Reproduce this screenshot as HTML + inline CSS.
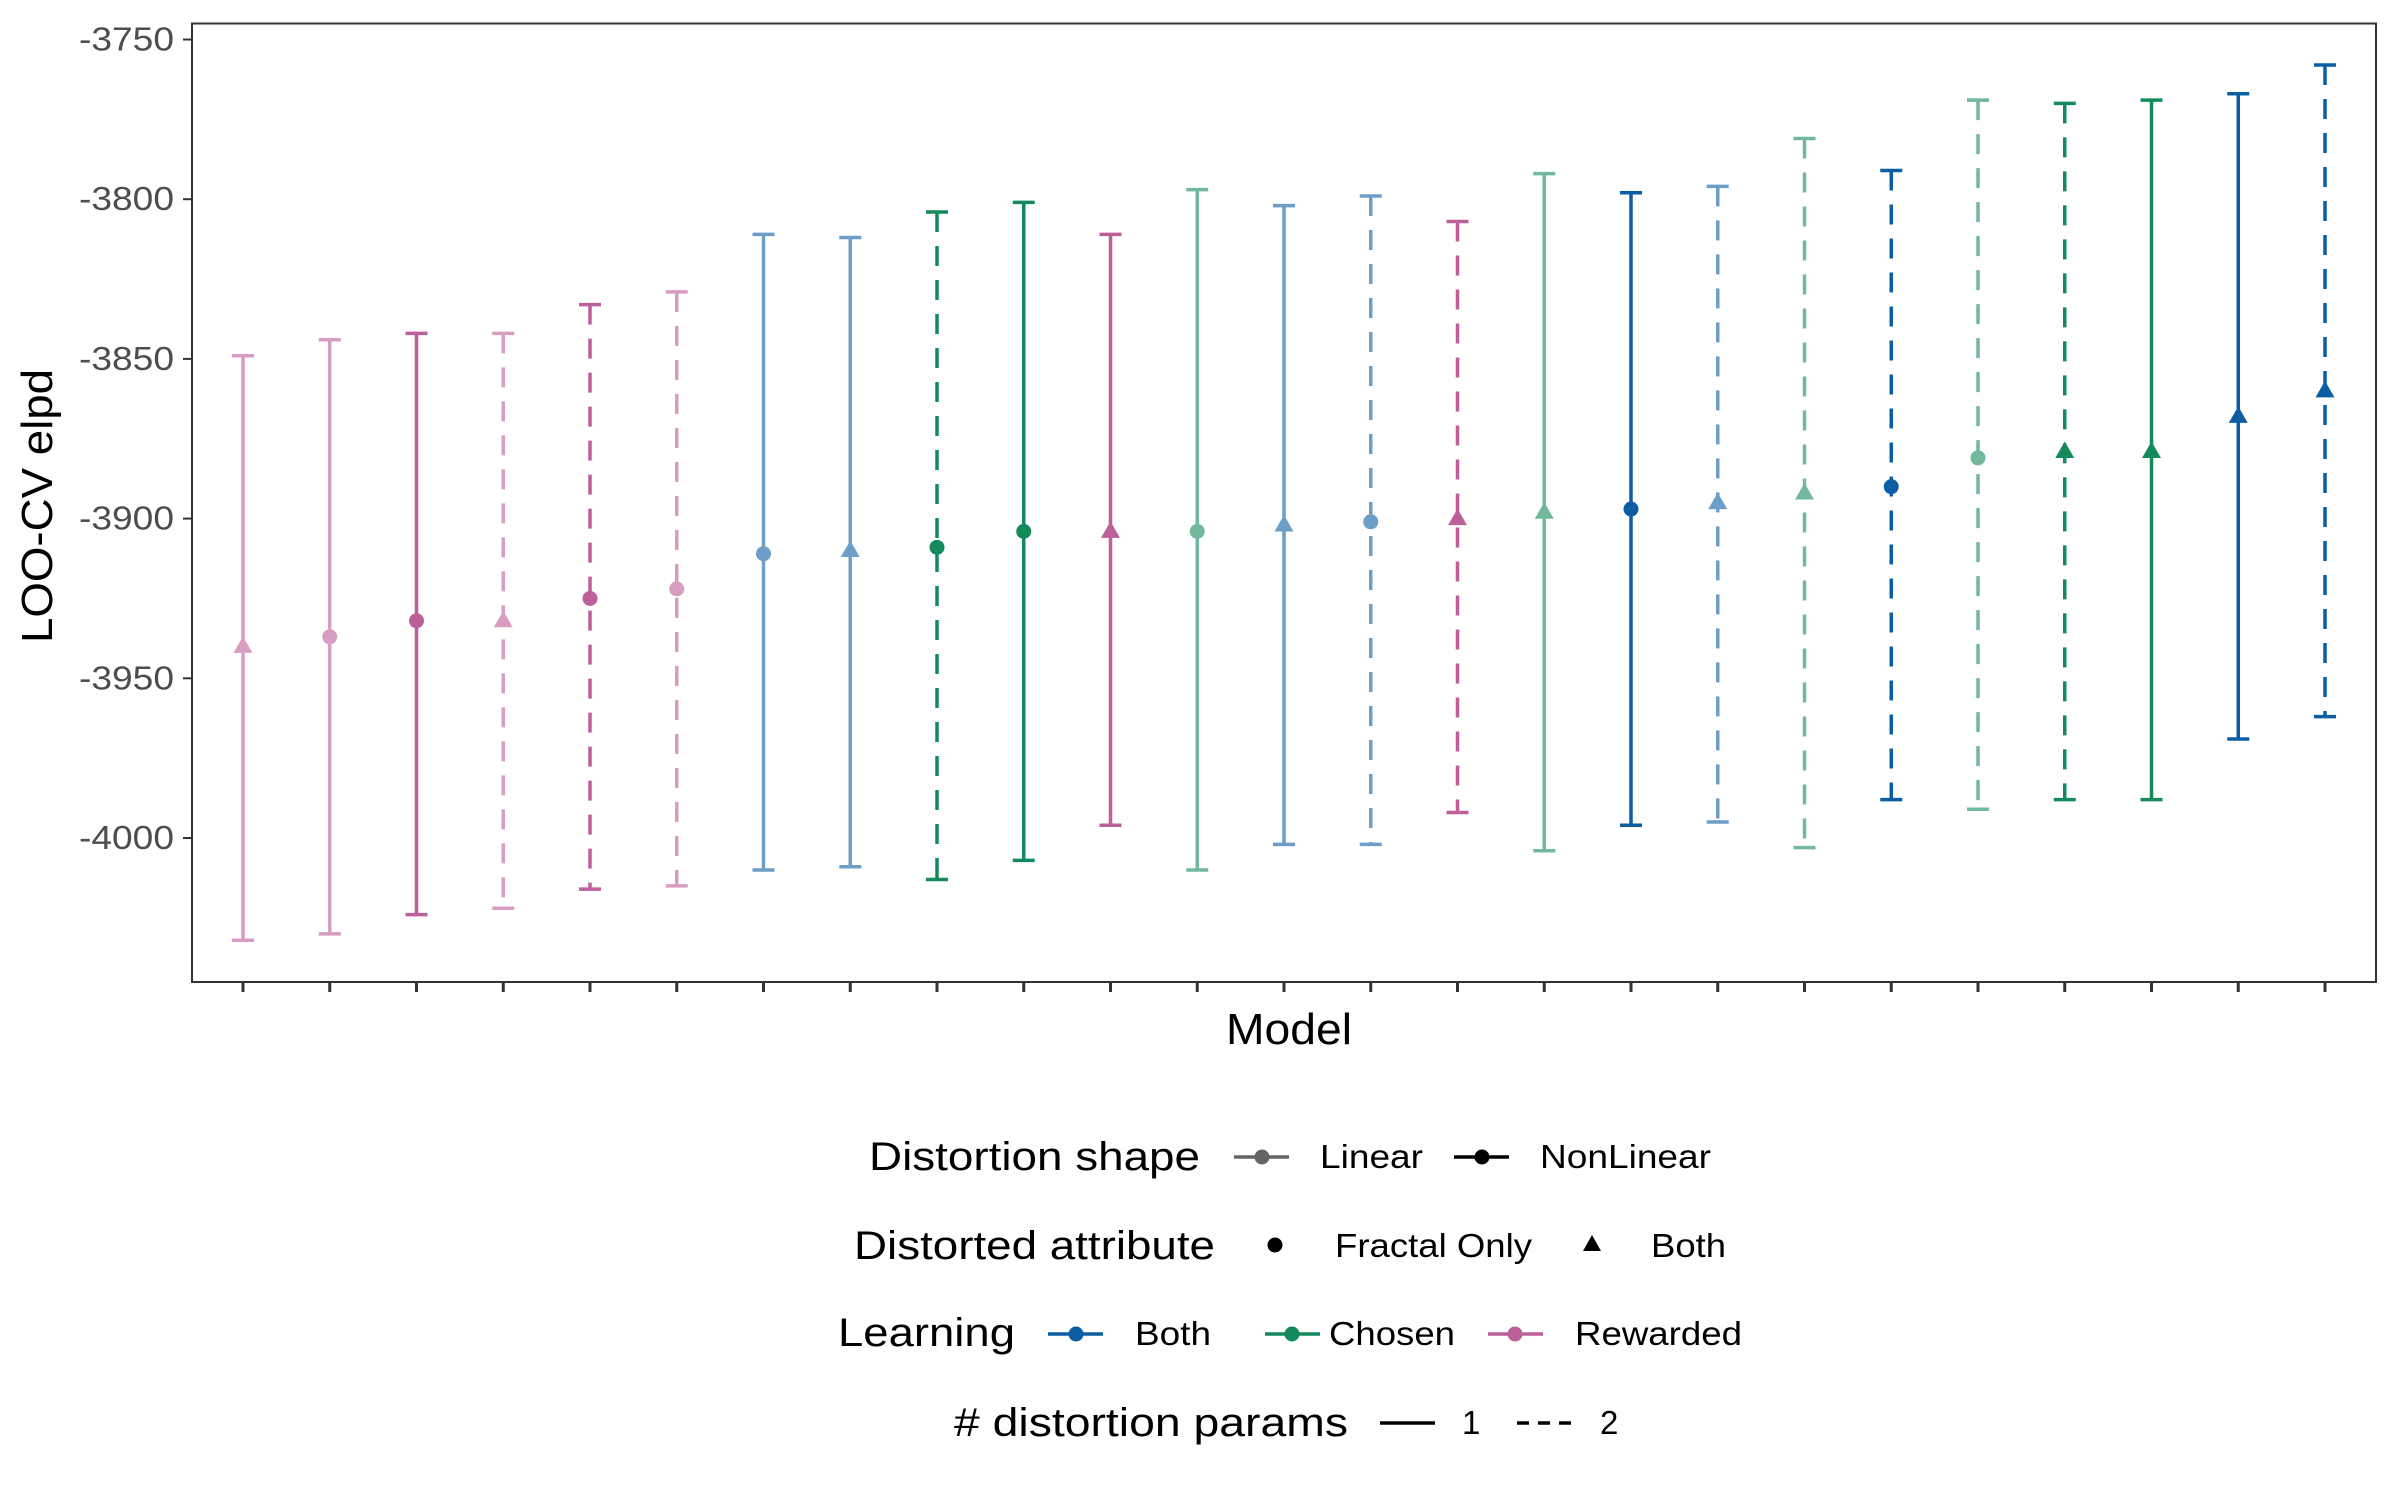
<!DOCTYPE html>
<html><head><meta charset="utf-8"><style>
html,body{margin:0;padding:0;background:#fff;}
svg{display:block;font-family:"Liberation Sans",Arial,sans-serif;}
</style></head><body>
<svg id="chart" width="2400" height="1500" viewBox="0 0 2400 1500" xmlns="http://www.w3.org/2000/svg">
<rect x="0" y="0" width="2400" height="1500" fill="#fff"/>
<g id="marks"></g>
<rect x="192" y="23.5" width="2184" height="958.5" fill="none" stroke="#333" stroke-width="2"/>
<g id="axes"></g>
<text transform="translate(52,506) rotate(-90)" text-anchor="middle" font-size="44" textLength="274" lengthAdjust="spacingAndGlyphs" fill="#000">LOO-CV elpd</text>
<text x="1289" y="1044" text-anchor="middle" font-size="44" textLength="126" lengthAdjust="spacingAndGlyphs" fill="#000">Model</text>
<g id="legend" fill="#000" transform="translate(0,-4)">
  <text x="869" y="1174" font-size="40" textLength="331" lengthAdjust="spacingAndGlyphs">Distortion shape</text>
  <g opacity="0.6"><line x1="1234" y1="1161" x2="1289" y2="1161" stroke="#000" stroke-width="3.5"/><circle cx="1262" cy="1161" r="7.5" fill="#000"/></g>
  <text x="1320" y="1172" font-size="33" textLength="103" lengthAdjust="spacingAndGlyphs">Linear</text>
  <g><line x1="1454" y1="1161" x2="1509" y2="1161" stroke="#000" stroke-width="3.5"/><circle cx="1482" cy="1161" r="7.5" fill="#000"/></g>
  <text x="1540" y="1172" font-size="33" textLength="171" lengthAdjust="spacingAndGlyphs">NonLinear</text>

  <text x="854" y="1263" font-size="40" textLength="361" lengthAdjust="spacingAndGlyphs">Distorted attribute</text>
  <circle cx="1275" cy="1249" r="7.5" fill="#000"/>
  <text x="1335" y="1261" font-size="33" textLength="197" lengthAdjust="spacingAndGlyphs">Fractal Only</text>
  <polygon points="1592,1239 1601,1255 1583,1255" fill="#000"/>
  <text x="1651" y="1261" font-size="33" textLength="75" lengthAdjust="spacingAndGlyphs">Both</text>

  <text x="838" y="1350" font-size="40" textLength="177" lengthAdjust="spacingAndGlyphs">Learning</text>
  <g><line x1="1048" y1="1338" x2="1103" y2="1338" stroke="#0b5ea4" stroke-width="3.5"/><circle cx="1076" cy="1338" r="7.5" fill="#0b5ea4"/></g>
  <text x="1135" y="1349" font-size="33" textLength="76" lengthAdjust="spacingAndGlyphs">Both</text>
  <g><line x1="1265" y1="1338" x2="1320" y2="1338" stroke="#138a5b" stroke-width="3.5"/><circle cx="1292" cy="1338" r="7.5" fill="#138a5b"/></g>
  <text x="1329" y="1349" font-size="33" textLength="126" lengthAdjust="spacingAndGlyphs">Chosen</text>
  <g><line x1="1488" y1="1338" x2="1543" y2="1338" stroke="#bd5f99" stroke-width="3.5"/><circle cx="1515" cy="1338" r="7.5" fill="#bd5f99"/></g>
  <text x="1575" y="1349" font-size="33" textLength="167" lengthAdjust="spacingAndGlyphs">Rewarded</text>

  <text x="954" y="1440" font-size="40" textLength="394" lengthAdjust="spacingAndGlyphs"># distortion params</text>
  <line x1="1380" y1="1427" x2="1435" y2="1427" stroke="#000" stroke-width="3.5"/>
  <text x="1462" y="1438" font-size="33">1</text>
  <line x1="1517" y1="1427" x2="1571" y2="1427" stroke="#000" stroke-width="3.5" stroke-dasharray="12,9"/>
  <text x="1600" y="1438" font-size="33">2</text>
</g>
</svg>
<script>
const means = [-3940,-3937,-3932,-3932,-3925,-3922,-3911,-3910,-3909,-3904,-3904,-3904,-3902,-3901,-3900,-3898,-3897,-3895,-3892,-3890,-3881,-3879,-3879,-3868,-3860];
const uppers = [-3849,-3844,-3842,-3842,-3833,-3829,-3811,-3812,-3804,-3801,-3811,-3797,-3802,-3799,-3807,-3792,-3798,-3796,-3781,-3791,-3769,-3770,-3769,-3767,-3758];
const lowers = [-4032,-4030,-4024,-4022,-4016,-4015,-4010,-4009,-4013,-4007,-3996,-4010,-4002,-4002,-3992,-4004,-3996,-3995,-4003,-3988,-3991,-3988,-3988,-3969,-3962];
const learning = ["Rewarded","Rewarded","Rewarded","Rewarded","Rewarded","Rewarded","Both","Both","Chosen","Chosen","Rewarded","Chosen","Both","Both","Rewarded","Chosen","Both","Both","Chosen","Both","Chosen","Chosen","Chosen","Both","Both"];
const shapes = ["Linear","Linear","NonLinear","Linear","NonLinear","Linear","Linear","Linear","NonLinear","NonLinear","NonLinear","Linear","Linear","Linear","NonLinear","Linear","NonLinear","Linear","Linear","NonLinear","Linear","NonLinear","NonLinear","NonLinear","NonLinear"];
const attributes = ["Both","Fractal","Fractal","Both","Fractal","Fractal","Fractal","Both","Fractal","Fractal","Both","Fractal","Both","Fractal","Both","Both","Fractal","Both","Both","Fractal","Fractal","Both","Both","Both","Both"];
const nParams = [1,1,1,2,2,2,1,1,2,1,1,1,1,2,2,1,1,2,2,2,2,2,1,1,2];
const yTicks = [-3750,-3800,-3850,-3900,-3950,-4000];

const colors = {Both:"#0b5ea4", Chosen:"#138a5b", Rewarded:"#bd5f99"};
const NS = "http://www.w3.org/2000/svg";
const x = i => 243 + i * (2325 - 243) / (means.length - 1);
const y = v => 39.5 + (-3750 - v) * (838 - 39.5) / 250;

const marks = document.getElementById('marks');
const axes = document.getElementById('axes');
function mk(tag, attrs, parent){
  const e = document.createElementNS(NS, tag);
  for (const k in attrs) e.setAttribute(k, attrs[k]);
  parent.appendChild(e);
  return e;
}
yTicks.forEach(t => {
  const l = mk('line', {x1:183, x2:192, y1:y(t), y2:y(t), stroke:'#333', 'stroke-width':2}, axes);
  
  
  const tx = mk('text', {x:174, y:y(t)+11, 'text-anchor':'end', 'font-size':33, textLength:95, lengthAdjust:'spacingAndGlyphs', fill:'#4d4d4d'}, axes);
  tx.textContent = t;
  
  
});
means.forEach((m, i) => {
  const g = mk('g', {opacity: shapes[i] === 'Linear' ? 0.6 : 1}, marks);
  
  
  const c = colors[learning[i]];
  const cx = x(i);
  const a = {x1:cx, x2:cx, y1:y(uppers[i]), y2:y(lowers[i]), stroke:c, 'stroke-width':3.5};
  if (nParams[i] === 2) a['stroke-dasharray'] = '20,14';
  mk('line', a, g);
  mk('line', {x1:cx-11, x2:cx+11, y1:y(uppers[i]), y2:y(uppers[i]), stroke:c, 'stroke-width':3.5}, g);
  mk('line', {x1:cx-11, x2:cx+11, y1:y(lowers[i]), y2:y(lowers[i]), stroke:c, 'stroke-width':3.5}, g);
  const cy = y(m);
  let p;
  if (attributes[i] === 'Fractal') p = mk('circle', {cx:cx, cy:cy, r:7.5, fill:c}, g);
  else p = mk('polygon', {points:`${cx},${cy-10} ${cx+9.5},${cy+6.5} ${cx-9.5},${cy+6.5}`, fill:c}, g);
  
  
  const tk = mk('line', {x1:cx, x2:cx, y1:982, y2:992, stroke:'#333', 'stroke-width':3}, axes);
  
  
});
</script>
</body></html>
